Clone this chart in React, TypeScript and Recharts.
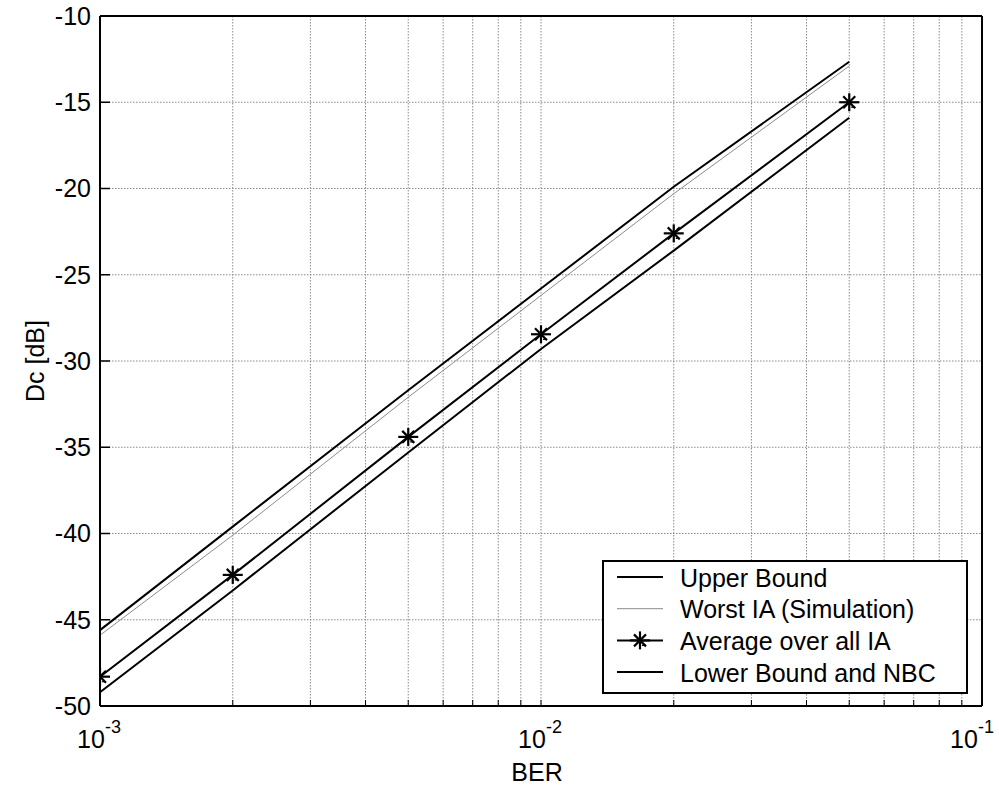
import React from 'react';
import { LineChart, Line, XAxis, YAxis, CartesianGrid, Legend } from 'recharts';

const FONT = '"Liberation Sans", Arial, Helvetica, sans-serif';

// BER sample points (log axis)
const berValues = [0.001, 0.002, 0.005, 0.01, 0.02, 0.05];

// Dc [dB]
const upperBound = [-45.6, -39.6, -31.7, -25.8, -19.9, -12.65];
const worstIA = [-45.9, -40.1, -32.1, -26.2, -20.3, -12.9];
const averageIA = [-48.3, -42.4, -34.4, -28.45, -22.6, -15.0];
const lowerBound = [-49.2, -43.3, -35.3, -29.3, -23.6, -15.9];

const xTicks = [
  0.001, 0.002, 0.003, 0.004, 0.005, 0.006, 0.007, 0.008, 0.009,
  0.01, 0.02, 0.03, 0.04, 0.05, 0.06, 0.07, 0.08, 0.09, 0.1,
];
const yTicks = [-50, -45, -40, -35, -30, -25, -20, -15, -10];

const seriesNames = ['Upper Bound', 'Worst IA (Simulation)', 'Average over all IA', 'Lower Bound and NBC'];

const data = berValues.map((ber, i) => ({
  ber,
  upper: upperBound[i],
  worst: worstIA[i],
  average: averageIA[i],
  lower: lowerBound[i],
}));

const Star = ({ cx, cy }: { cx: number; cy: number }) => (
  <g stroke="#000" fill="none">
    <line x1={cx - 10} y1={cy} x2={cx + 10} y2={cy} strokeWidth={2.2} />
    <line x1={cx} y1={cy - 9} x2={cx} y2={cy + 9} strokeWidth={2.2} />
    <line x1={cx - 6} y1={cy - 6} x2={cx + 6} y2={cy + 6} strokeWidth={2.2} />
    <line x1={cx - 6} y1={cy + 6} x2={cx + 6} y2={cy - 6} strokeWidth={2.2} />
    <line x1={cx + 2} y1={cy + 5} x2={cx + 6} y2={cy + 5} strokeWidth={1.2} />
  </g>
);

const renderStar = (p: any) => {
  if (p.cx == null || p.cy == null) return <g key={`s-${p.index}`} />;
  return (
    <g key={`s-${p.index}`}>
      <Star cx={p.cx} cy={p.cy} />
    </g>
  );
};

const XTick = (props: any) => {
  const { x, y, payload } = props;
  const lg = Math.log10(payload.value);
  if (Math.abs(lg - Math.round(lg)) > 1e-6) return <g />;
  // keep the last label inside the picture, as in the original
  const shift = Math.min(0, 994 - (x + 21));
  return (
    <text x={x - 1 + shift} y={y + 42} textAnchor="middle" fontFamily={FONT} fontSize={25} fill="#000">
      <tspan>10</tspan>
      <tspan dy={-15} fontSize={18}>{String(Math.round(lg))}</tspan>
    </text>
  );
};

const LegendBox = () => (
  <svg width={366} height={134} style={{ display: 'block' }}>
    <rect x={1} y={1} width={364} height={132} fill="#fff" stroke="#000" strokeWidth={2} />
    {seriesNames.map((name, i) => {
      const cy = 17 + i * 31.7;
      const gray = i === 1;
      return (
        <g key={name}>
          <line x1={15} y1={cy} x2={61} y2={cy} stroke={gray ? '#8c8c8c' : '#000'} strokeWidth={gray ? 1 : 2} />
          {i === 2 && <Star cx={38} cy={cy} />}
          <text x={78} y={cy + 9.5} fontFamily={FONT} fontSize={25} fill="#000">
            {name}
          </text>
        </g>
      );
    })}
  </svg>
);

export default function App() {
  return (
    <div style={{ position: 'absolute', left: 0, top: 0, width: 999, height: 786, background: '#fff' }}>
      <LineChart
        width={999}
        height={786}
        data={data}
        margin={{ top: 15, right: 16, left: 0, bottom: 0 }}
      >
        <CartesianGrid stroke="#8a8a8a" strokeDasharray="1.5 1.5" strokeWidth={1} />
        <XAxis
          dataKey="ber"
          type="number"
          scale="log"
          domain={[0.001, 0.1]}
          allowDataOverflow
          ticks={xTicks}
          interval={0}
          height={80}
          stroke="#000"
          axisLine={{ stroke: '#000', strokeWidth: 2 }}
          tickLine={{ stroke: '#000', strokeWidth: 1 }}
          tickSize={-6}
          tickMargin={6}
          tick={<XTick />}
          label={(p: any) => {
            const vb = p.viewBox;
            return (
              <text x={vb.x + vb.width / 2 - 4} y={vb.y + 75} textAnchor="middle" fontFamily={FONT} fontSize={25} fill="#000">
                BER
              </text>
            );
          }}
        />
        <XAxis
          xAxisId="top"
          orientation="top"
          type="number"
          scale="log"
          domain={[0.001, 0.1]}
          allowDataOverflow
          ticks={xTicks}
          interval={0}
          height={1}
          axisLine={{ stroke: '#000', strokeWidth: 2 }}
          tickLine={{ stroke: '#000', strokeWidth: 1 }}
          tickSize={-6}
          tick={false}
        />
        <YAxis
          type="number"
          domain={[-50, -10]}
          allowDataOverflow
          ticks={yTicks}
          interval={0}
          width={100}
          axisLine={{ stroke: '#000', strokeWidth: 2 }}
          tickLine={{ stroke: '#000', strokeWidth: 1.5 }}
          tickSize={-10}
          tickMargin={19}
          tick={{ fontSize: 25, fill: '#000', fontFamily: FONT }}
          label={(p: any) => {
            const vb = p.viewBox;
            const cy = vb.y + vb.height / 2;
            return (
              <text
                x={44}
                y={cy}
                transform={`rotate(-90, 44, ${cy})`}
                textAnchor="middle"
                fontFamily={FONT}
                fontSize={25}
                fill="#000"
              >
                Dc [dB]
              </text>
            );
          }}
        />
        <YAxis
          yAxisId="right"
          orientation="right"
          type="number"
          domain={[-50, -10]}
          allowDataOverflow
          ticks={yTicks}
          interval={0}
          width={1}
          axisLine={{ stroke: '#000', strokeWidth: 2 }}
          tickLine={{ stroke: '#000', strokeWidth: 1.5 }}
          tickSize={-10}
          tick={false}
        />
        <Legend
          layout="vertical"
          align="center"
          verticalAlign="middle"
          content={() => <LegendBox />}
          wrapperStyle={{ left: 602, top: 560, width: 366, height: 134 }}
        />
        <Line dataKey="upper" name={seriesNames[0]} type="linear" stroke="#000" strokeWidth={2} dot={false} activeDot={false} isAnimationActive={false} />
        <Line dataKey="worst" name={seriesNames[1]} type="linear" stroke="#8c8c8c" strokeWidth={1} dot={false} activeDot={false} isAnimationActive={false} />
        <Line dataKey="average" name={seriesNames[2]} type="linear" stroke="#000" strokeWidth={2} dot={renderStar} activeDot={false} isAnimationActive={false} />
        <Line dataKey="lower" name={seriesNames[3]} type="linear" stroke="#000" strokeWidth={2} dot={false} activeDot={false} isAnimationActive={false} />
      </LineChart>
    </div>
  );
}
